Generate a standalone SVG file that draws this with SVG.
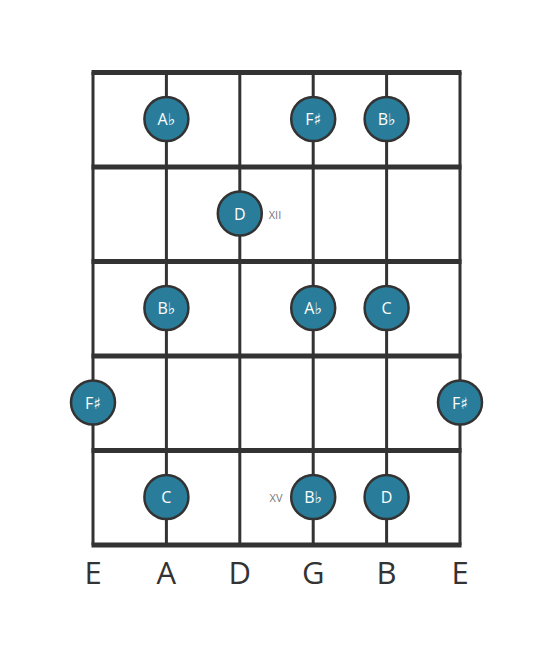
<svg xmlns="http://www.w3.org/2000/svg" width="553" height="656" viewBox="0 0 553 656">
<style>
.s{stroke:#333;stroke-width:3;fill:none}
.f{stroke:#333;stroke-width:5;fill:none}
.n circle{fill:#2a7d9a;stroke:#333;stroke-width:2.5}
.n text{fill:#fff;font-family:"Open Sans","DejaVu Sans",sans-serif;font-size:16px;text-anchor:middle;dominant-baseline:central}
.lab{fill:#333;font-family:"Open Sans","DejaVu Sans",sans-serif;font-size:31px;text-anchor:middle}
.pos{fill:#777;font-family:"Open Sans","DejaVu Sans",sans-serif;font-size:11px;text-anchor:middle;dominant-baseline:central}
</style>
<rect width="553" height="656" fill="#fff"/>
<g id="connectors">
<line class="s" x1="93" y1="72" x2="93" y2="545"/>
<line class="s" x1="166.4" y1="72" x2="166.4" y2="545"/>
<line class="s" x1="239.8" y1="72" x2="239.8" y2="545"/>
<line class="s" x1="313.2" y1="72" x2="313.2" y2="545"/>
<line class="s" x1="386.6" y1="72" x2="386.6" y2="545"/>
<line class="s" x1="460" y1="72" x2="460" y2="545"/>
<line class="f" x1="91.5" y1="72.5" x2="461.5" y2="72.5"/>
<line class="f" x1="91.5" y1="167" x2="461.5" y2="167"/>
<line class="f" x1="91.5" y1="261.5" x2="461.5" y2="261.5"/>
<line class="f" x1="91.5" y1="356" x2="461.5" y2="356"/>
<line class="f" x1="91.5" y1="450.5" x2="461.5" y2="450.5"/>
<line class="f" x1="91.5" y1="545" x2="461.5" y2="545"/>
</g>
<g id="n1" class="n"><circle cx="166.4" cy="119" r="22"/><text x="166.4" y="119">A♭</text></g>
<g id="n2" class="n"><circle cx="313.2" cy="119" r="22"/><text x="313.2" y="119">F♯</text></g>
<g id="n3" class="n"><circle cx="386.6" cy="119" r="22"/><text x="386.6" y="119">B♭</text></g>
<g id="n4" class="n"><circle cx="239.8" cy="213.5" r="22"/><text x="239.8" y="213.5">D</text></g>
<g id="n5" class="n"><circle cx="166.4" cy="308" r="22"/><text x="166.4" y="308">B♭</text></g>
<g id="n6" class="n"><circle cx="313.2" cy="308" r="22"/><text x="313.2" y="308">A♭</text></g>
<g id="n7" class="n"><circle cx="386.6" cy="308" r="22"/><text x="386.6" y="308">C</text></g>
<g id="n8" class="n"><circle cx="93" cy="402.5" r="22"/><text x="93" y="402.5">F♯</text></g>
<g id="n9" class="n"><circle cx="460" cy="402.5" r="22"/><text x="460" y="402.5">F♯</text></g>
<g id="n10" class="n"><circle cx="166.4" cy="497" r="22"/><text x="166.4" y="497">C</text></g>
<g id="n11" class="n"><circle cx="313.2" cy="497" r="22"/><text x="313.2" y="497">B♭</text></g>
<g id="n12" class="n"><circle cx="386.6" cy="497" r="22"/><text x="386.6" y="497">D</text></g>
<text class="pos" x="275" y="214">XII</text>
<text class="pos" x="276" y="497">XV</text>
<g id="labels">
<text class="lab" x="93" y="584">E</text>
<text class="lab" x="166.4" y="584">A</text>
<text class="lab" x="239.8" y="584">D</text>
<text class="lab" x="313.2" y="584">G</text>
<text class="lab" x="386.6" y="584">B</text>
<text class="lab" x="460" y="584">E</text>
</g>
</svg>
